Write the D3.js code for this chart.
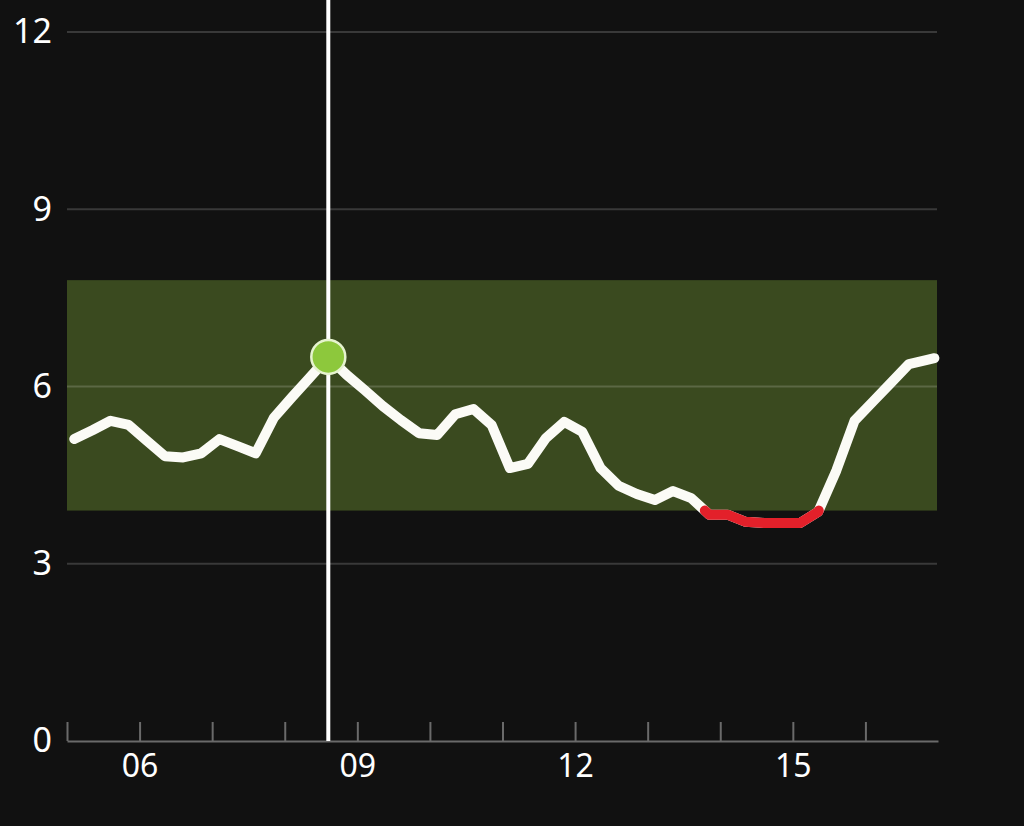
<!DOCTYPE html>
<html>
<head>
<meta charset="utf-8">
<script src="https://cdn.jsdelivr.net/npm/d3@7"></script>
<style>
  html, body { margin: 0; padding: 0; background: #111111; }
  svg { display: block; }
</style>
</head>
<body>
<svg id="chart" width="1024" height="826"></svg>
<script>
// ---- data ----
const times = [
  "05:06","05:21","05:36","05:51","06:06","06:21","06:36","06:51","07:06","07:21",
  "07:36","07:51","08:06","08:21","08:36","08:51","09:06","09:21","09:36","09:51",
  "10:06","10:21","10:36","10:51","11:06","11:21","11:36","11:51","12:06","12:21",
  "12:36","12:51","13:06","13:21","13:36","13:51","14:06","14:21","14:36","14:51",
  "15:06","15:21","15:36","15:51","16:06","16:21","16:36","16:51","16:57"
];
const glucose = [
  5.11, 5.26, 5.42, 5.35, 5.08, 4.82, 4.80, 4.87, 5.11, 4.99,
  4.87, 5.47, 5.82, 6.16, 6.50, 6.20, 5.94, 5.67, 5.43, 5.21,
  5.18, 5.53, 5.62, 5.35, 4.62, 4.69, 5.13, 5.40, 5.23, 4.62,
  4.32, 4.18, 4.08, 4.23, 4.11, 3.83, 3.83, 3.71, 3.69, 3.69,
  3.69, 3.88, 4.58, 5.42, 5.74, 6.06, 6.38, 6.45, 6.48
];
const targetRange = [3.9, 7.8];
const lowThreshold = 3.9;
const yTicks = [0, 3, 6, 9, 12];
const xTickHours = [5, 6, 7, 8, 9, 10, 11, 12, 13, 14, 15, 16];
const xLabelHours = [6, 9, 12, 15];
const cursorTime = "08:36";
const cursorValue = 6.5;

// ---- helpers ----
const toHours = s => { const [h, m] = s.split(":").map(Number); return h + m / 60; };
const pts = times.map((t, i) => ({ t: toHours(t), v: glucose[i] }));

const svg = d3.select("#chart");
const W = 1024, H = 826;
svg.append("rect").attr("width", W).attr("height", H).attr("fill", "#111111");

const x = d3.scaleLinear().domain([5, 17]).range([67, 938]);
const y = d3.scaleLinear().domain([0, 12]).range([741, 32]);

// target band
svg.append("rect")
  .attr("x", x(5)).attr("width", x(17) - x(5) - 1)
  .attr("y", y(targetRange[1])).attr("height", y(targetRange[0]) - y(targetRange[1]))
  .attr("fill", "#3a4a1f");

// gridlines
svg.append("g").selectAll("line")
  .data(yTicks.filter(d => d > 0))
  .join("line")
  .attr("x1", x(5)).attr("x2", x(17) - 1)
  .attr("y1", d => y(d)).attr("y2", d => y(d))
  .attr("stroke", "#ffffff").attr("stroke-opacity", 0.17).attr("stroke-width", 2);

// y axis labels
const yAxis = d3.axisLeft(y).tickValues(yTicks).tickSize(0).tickPadding(15).tickFormat(d3.format("d"));
const gy = svg.append("g").attr("transform", `translate(${x(5)},0)`).call(yAxis);
gy.select(".domain").remove();
gy.selectAll("text")
  .attr("fill", "#ffffff")
  .style("font-family", "'Noto Sans', 'Open Sans', sans-serif")
  .style("font-size", "34px");

// x axis
const xAxis = d3.axisBottom(x)
  .tickValues(xTickHours)
  .tickSizeInner(-19).tickSizeOuter(0).tickPadding(13)
  .tickFormat(h => xLabelHours.includes(h) ? String(h).padStart(2, "0") : "");
const gx = svg.append("g").attr("transform", `translate(0,${y(0)})`).call(xAxis);
gx.select(".domain").attr("stroke", "#6a6a6a").attr("stroke-width", 2);
gx.selectAll(".tick line").attr("stroke", "#6a6a6a").attr("stroke-width", 2);
gx.selectAll("text")
  .attr("fill", "#ffffff")
  .style("font-family", "'Noto Sans', 'Open Sans', sans-serif")
  .style("font-size", "32px");

// glucose line (white)
const line = d3.line().x(d => x(d.t)).y(d => y(d.v)).curve(d3.curveLinear);
svg.append("path")
  .datum(pts)
  .attr("d", line)
  .attr("fill", "none")
  .attr("stroke", "#fbfbf6")
  .attr("stroke-width", 10)
  .attr("stroke-linejoin", "round")
  .attr("stroke-linecap", "round");

// low segments (red)
const lowSegs = [];
let cur = null;
for (let i = 0; i < pts.length; i++) {
  const p = pts[i];
  const below = p.v < lowThreshold;
  if (i > 0) {
    const q = pts[i - 1];
    const qb = q.v < lowThreshold;
    if (qb !== below) {
      const f = (lowThreshold - q.v) / (p.v - q.v);
      const c = { t: q.t + f * (p.t - q.t), v: lowThreshold };
      if (below) { cur = [c]; } else { cur.push(c); lowSegs.push(cur); cur = null; }
    }
  } else if (below) { cur = []; }
  if (below) cur.push(p);
}
if (cur) lowSegs.push(cur);
svg.append("g").selectAll("path")
  .data(lowSegs)
  .join("path")
  .attr("d", line)
  .attr("fill", "none")
  .attr("stroke", "#e3202a")
  .attr("stroke-width", 10)
  .attr("stroke-linejoin", "round")
  .attr("stroke-linecap", "round");

// cursor
const ct = toHours(cursorTime);
svg.append("line")
  .attr("x1", x(ct)).attr("x2", x(ct))
  .attr("y1", 0).attr("y2", y(0))
  .attr("stroke", "#ffffff").attr("stroke-width", 4);
svg.append("circle")
  .attr("cx", x(ct)).attr("cy", y(cursorValue)).attr("r", 17)
  .attr("fill", "#8dc83c")
  .attr("stroke", "#e6f3cf").attr("stroke-width", 2.5);
</script>
</body>
</html>
